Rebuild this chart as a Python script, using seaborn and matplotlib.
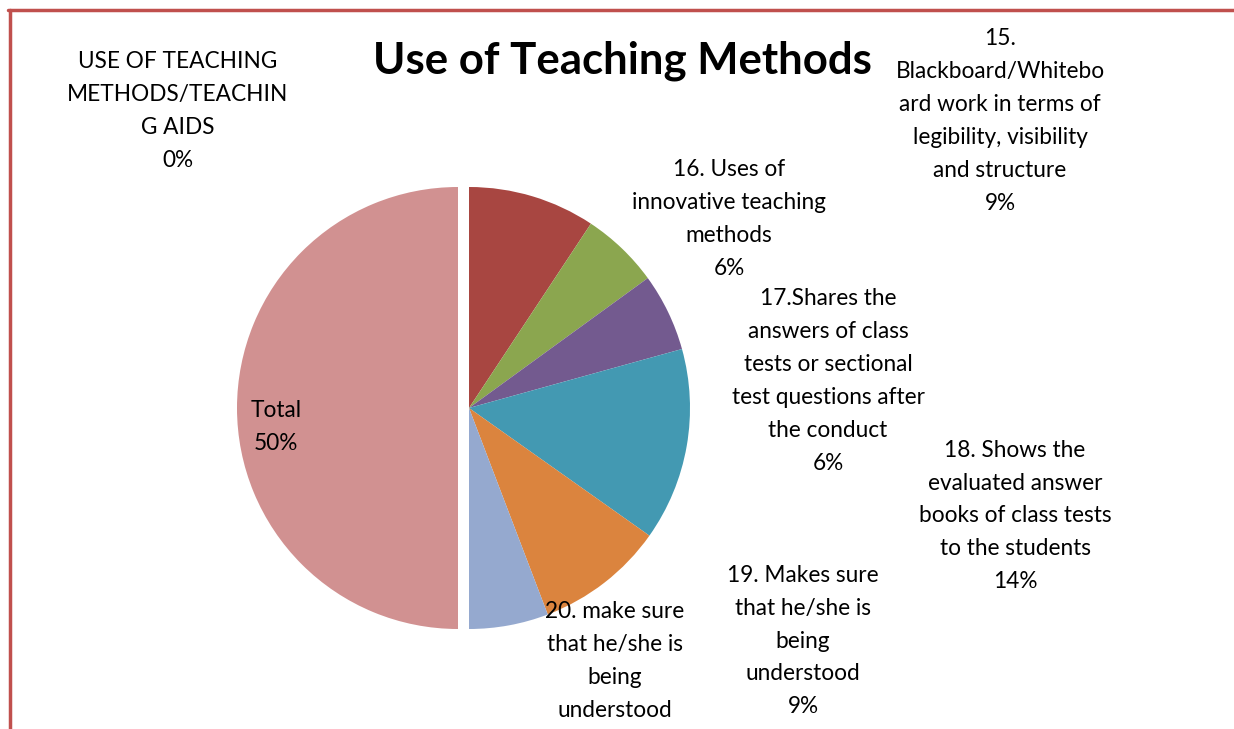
import matplotlib
matplotlib.use("Agg")
import matplotlib.pyplot as plt
import seaborn as sns
from matplotlib.lines import Line2D

# Slice data (share of total), clockwise from 12 o'clock
names = [
    "USE OF TEACHING\nMETHODS/TEACHIN\nG AIDS",
    "15.\nBlackboard/Whitebo\nard work in terms of\nlegibility, visibility\nand structure",
    "16. Uses of\ninnovative teaching\nmethods",
    "17.Shares the\nanswers of class\ntests or sectional\ntest questions after\nthe conduct",
    "18. Shows the\nevaluated answer\nbooks of class tests\nto the students",
    "19. Makes sure\nthat he/she is\nbeing\nunderstood",
    "20. make sure\nthat he/she is\nbeing\nunderstood",
    "Total",
]
values = [0, 9.3, 5.7, 5.7, 14.1, 9.4, 5.8, 50.0]
# the percentage of slice 20 falls below the chart edge in the original
show_pct = [True, True, True, True, True, True, False, True]
slice_colors = ["#4F81BD", "#A84641", "#8BA64F", "#735A8F", "#4399B2",
                "#DB843E", "#95A9CF", "#D19191"]

sns.set_theme(style="white")
plt.rcParams["font.family"] = ["Lato", "DejaVu Sans"]

W, H = 1234, 729
fig = plt.figure(figsize=(W / 100, H / 100), dpi=100)
ax = fig.add_axes([0, 0, 1, 1])

explode = [11 if n == "Total" else 0 for n in names]
ax.pie(values, colors=sns.color_palette(slice_colors), startangle=90,
       counterclock=False, center=(469, H - 408), radius=221,
       explode=explode, wedgeprops=dict(linewidth=0))

# pie() resets the limits, so set the pixel frame afterwards
ax.set_xlim(0, W)
ax.set_ylim(0, H)
ax.set_aspect("equal")
ax.axis("off")

# label positions (picture pixels, centre of each text block)
label_pos = [(178, 111), (1000, 121), (729, 219), (828, 381),
             (1015, 516), (803, 641), (615, 661), (276, 427)]
total = sum(values)
for name, v, pct, (x, y) in zip(names, values, show_pct, label_pos):
    txt = f"{name}\n{v / total * 100:.0f}%" if pct else name
    ax.text(x, H - y, txt, ha="center", va="center",
            multialignment="center", fontsize=16.3, linespacing=1.70,
            color="black")

ax.text(622, H - 61, "Use of Teaching Methods", ha="center", va="center",
        fontsize=31.5, fontweight="bold", color="black")

# chart frame (only top and left edge visible)
fig.add_artist(Line2D([8 / W, 1], [1 - 10 / H, 1 - 10 / H], color="#C0504D",
                      lw=2.5, transform=fig.transFigure))
fig.add_artist(Line2D([10 / W, 10 / W], [0, 1 - 10 / H], color="#C0504D",
                      lw=2.5, transform=fig.transFigure))

fig.savefig("out.png", dpi=100)
